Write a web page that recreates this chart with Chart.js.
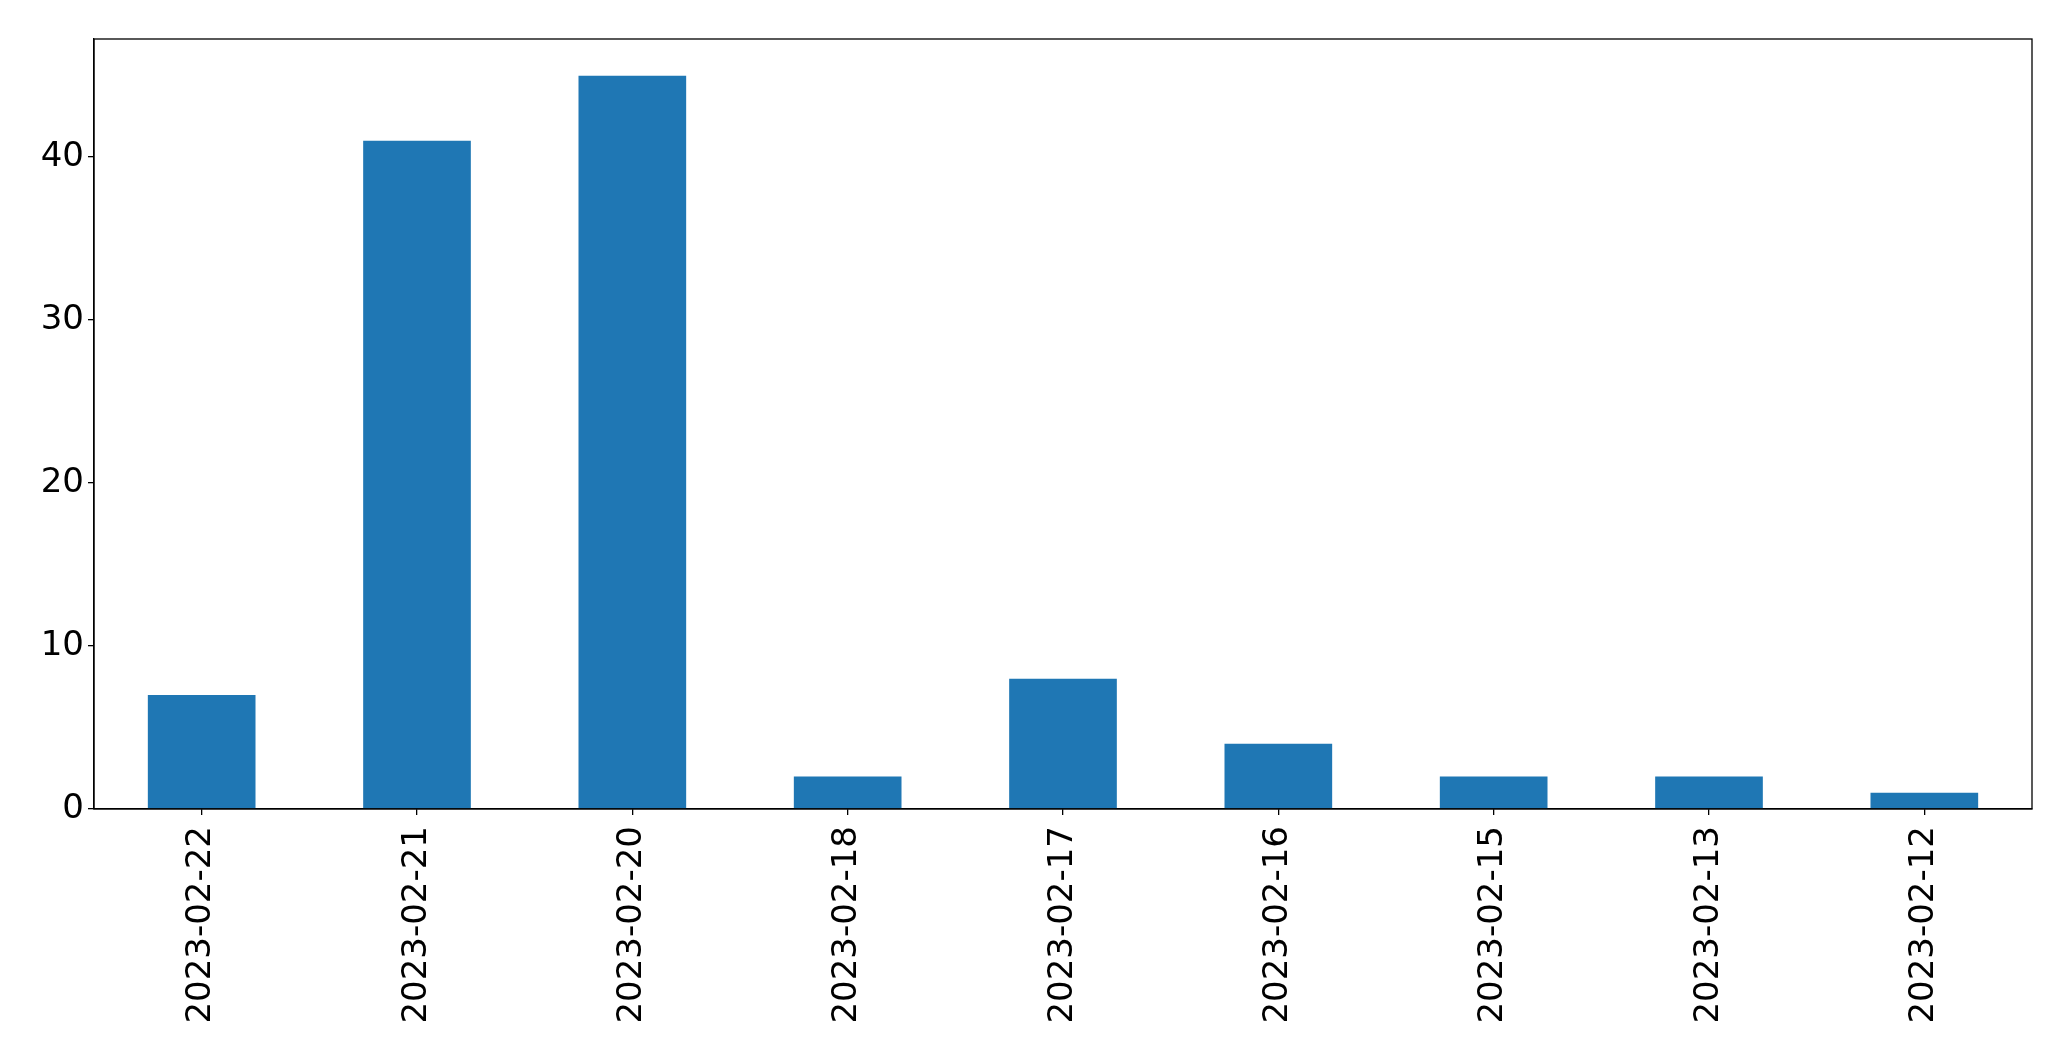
<!DOCTYPE html>
<html>
<head>
<meta charset="utf-8">
<script src="https://cdn.jsdelivr.net/npm/chart.js@4.4.1/dist/chart.umd.min.js"></script>
<style>
  html, body { margin: 0; padding: 0; background: #ffffff; }
  #wrap { width: 2071px; height: 1061px; }
</style>
</head>
<body>
<div id="wrap"><canvas id="c" width="2071" height="1061"></canvas></div>
<script>
const categories = ["2023-02-22", "2023-02-21", "2023-02-20", "2023-02-18", "2023-02-17", "2023-02-16", "2023-02-15", "2023-02-13", "2023-02-12"];
const counts = [7, 41, 45, 2, 8, 4, 2, 2, 1];
const yTicks = [0, 10, 20, 30, 40];
const yMax = 47.25;

const frame = {
  id: 'frame',
  afterDraw(chart) {
    const a = chart.chartArea, ctx = chart.ctx;
    ctx.save();
    ctx.strokeStyle = '#000';
    ctx.lineWidth = 1.3;
    ctx.strokeRect(a.left, a.top, a.right - a.left, a.bottom - a.top);
    ctx.restore();
  }
};

new Chart(document.getElementById('c'), {
  type: 'bar',
  data: {
    labels: categories,
    datasets: [{
      data: counts,
      backgroundColor: '#1f77b4',
      borderWidth: 0,
      barPercentage: 0.5,
      categoryPercentage: 1.0
    }]
  },
  options: {
    responsive: false,
    animation: false,
    devicePixelRatio: 1,
    layout: { padding: { left: 0, top: 39, right: 39, bottom: 0 } },
    plugins: { legend: { display: false }, tooltip: { enabled: false } },
    scales: {
      x: {
        offset: true,
        grid: { drawOnChartArea: false, drawTicks: true, tickLength: 6, color: '#000', lineWidth: 1.3, offset: false },
        border: { display: true, color: '#000', width: 1.3 },
        ticks: {
          color: '#000', minRotation: 90, maxRotation: 90, autoSkip: false, padding: 11,
          font: { family: 'DejaVu Sans', size: 34 }
        },
        afterFit(s) { s.height = 252; }
      },
      y: {
        min: 0, max: yMax,
        afterBuildTicks(s) { s.ticks = yTicks.map(v => ({ value: v })); },
        grid: { drawOnChartArea: false, drawTicks: true, tickLength: 6, color: '#000', lineWidth: 1.3 },
        border: { display: true, color: '#000', width: 1.3 },
        ticks: {
          color: '#000', padding: 4,
          font: { family: 'DejaVu Sans', size: 34 }
        },
        afterFit(s) { s.width = 94; }
      }
    }
  },
  plugins: [frame]
});
</script>
</body>
</html>
